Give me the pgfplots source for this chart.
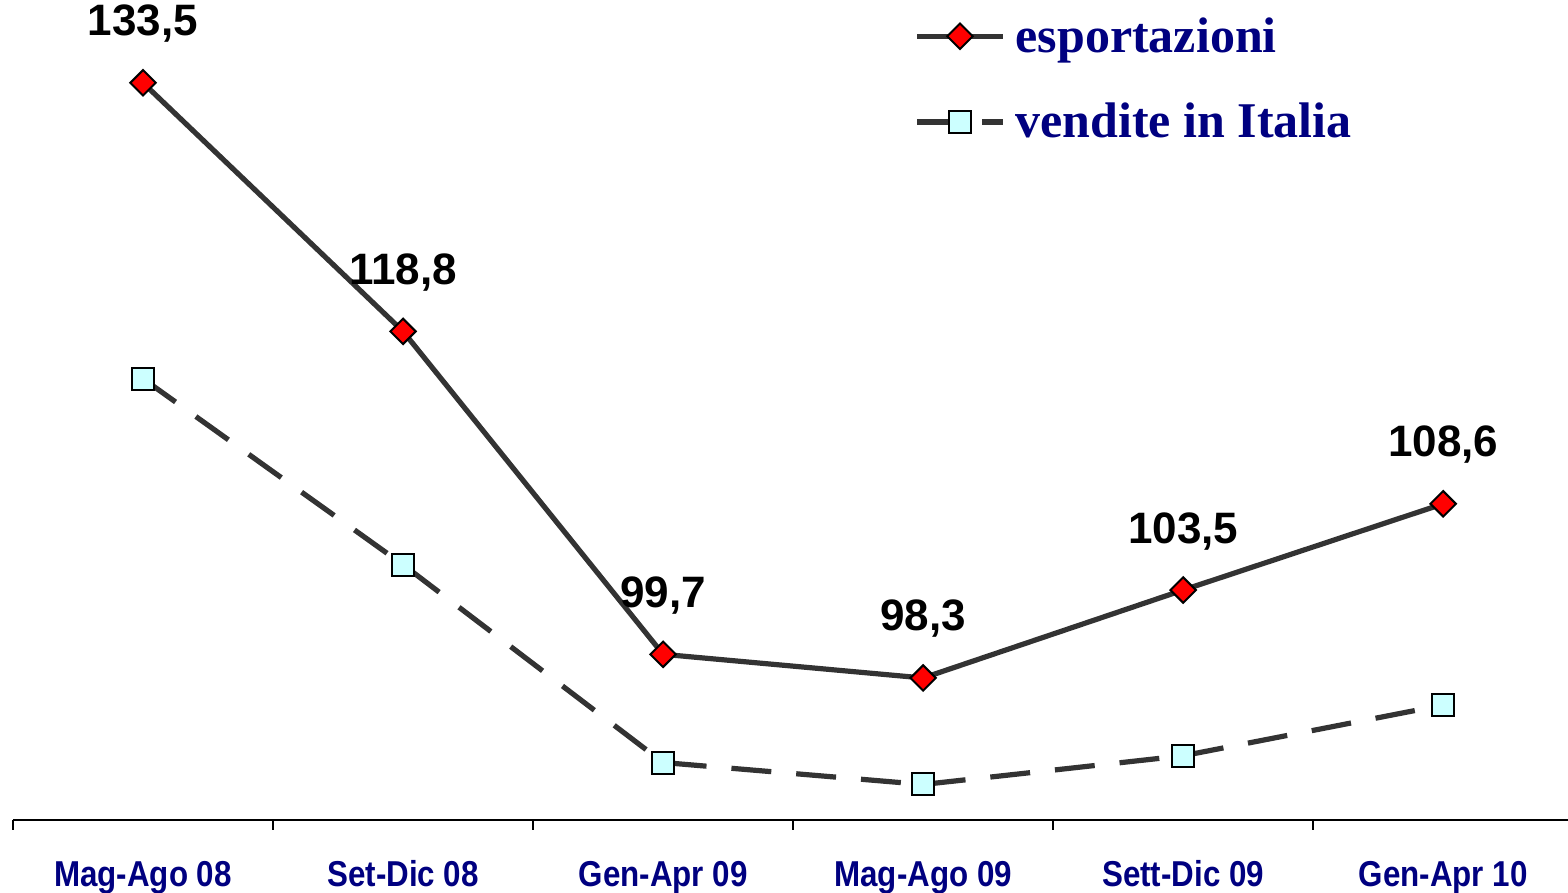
\documentclass[border=0pt]{standalone}
\usepackage{fontspec}
\setmainfont{Liberation Sans}
\newfontfamily\tickfont[FakeStretch=0.87]{Liberation Sans}
\newfontfamily\legfont{Liberation Serif}
\usepackage{pgfplots}
\pgfplotsset{compat=1.18}
\definecolor{navy}{RGB}{0,0,128}
\definecolor{linegray}{RGB}{51,51,51}
\definecolor{lightcyan}{RGB}{204,255,255}
\begin{document}
\begin{tikzpicture}
\useasboundingbox (-6.5pt,-36.5pt) rectangle (777.5pt,410pt);
\begin{axis}[
  scale only axis,
  width=777.5pt, height=410pt,
  xmin=-0.5, xmax=5.48,
  ymin=89.9, ymax=138.4,
  clip=false,
  axis y line=none,
  axis x line=bottom,
  x axis line style={-, line width=1.2pt, black},
  xtick={0,1,2,3,4,5},
  xticklabels={Mag-Ago 08,Set-Dic 08,Gen-Apr 09,Mag-Ago 09,Sett-Dic 09,Gen-Apr 10},
  major tick length=0pt,
  minor xtick={-0.5,0.5,1.5,2.5,3.5,4.5},
  minor tick length=5pt,
  tick align=outside,
  minor tick style={line width=1.2pt, black},
  xticklabel style={font=\tickfont\bfseries\fontsize{18}{20}\selectfont, text=navy, anchor=base, yshift=-33.5pt},
  /pgf/number format/assume math mode=true,
  legend style={at={(450.5pt,403.5pt)}, anchor=north west, draw=none, fill=none,
    font=\legfont\bfseries\fontsize{25}{28}\selectfont, text=navy,
    row sep=20pt, column sep=3pt, inner sep=0pt},
  legend cell align=left,
  legend image code/.code={%
    \draw[mark repeat=2, mark phase=2, #1] plot coordinates {(0pt,0pt) (21.5pt,0pt) (43pt,0pt)};},
]
\addplot[linegray, line width=2.6pt, mark=square*, mark size=4.5pt,
  mark options={solid, rotate=45, fill=red, draw=black, line width=1pt},
  nodes near coords={\pgfmathprintnumber[use comma,fixed,fixed zerofill,precision=1]{\pgfplotspointmeta}},
  every node near coord/.append style={font=\bfseries\fontsize{22}{24}\selectfont, text=black, anchor=center, yshift=29.5pt}]
  coordinates {(0,133.5) (1,118.8) (2,99.7) (3,98.3) (4,103.5) (5,108.6)};
\addlegendentry{esportazioni}
\addplot[linegray, line width=2.6pt, dash pattern=on 20pt off 12.5pt, mark=square*, mark size=5.5pt,
  mark options={solid, fill=lightcyan, draw=black, line width=1pt}]
  coordinates {(0,116.0) (1,105.0) (2,93.3) (3,92.0) (4,93.7) (5,96.7)};
\addlegendentry{vendite in Italia}
\end{axis}
\end{tikzpicture}
\end{document}
